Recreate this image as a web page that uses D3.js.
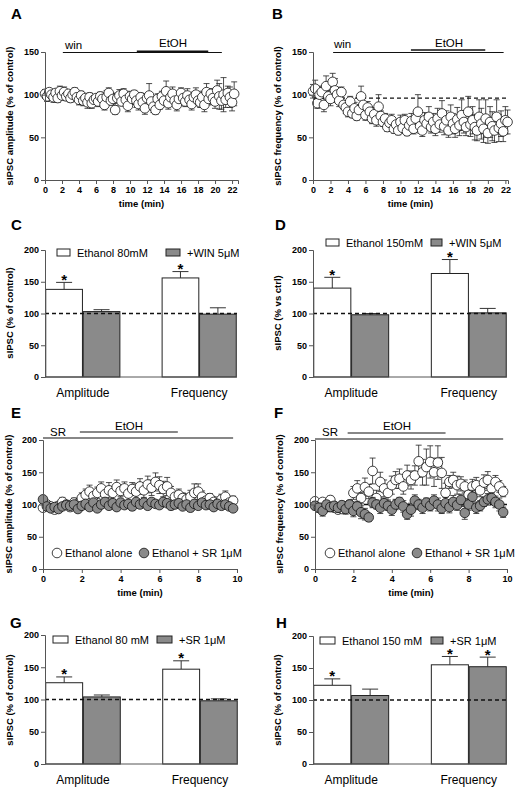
<!DOCTYPE html>
<html><head><meta charset="utf-8">
<script src="https://cdn.jsdelivr.net/npm/d3@7"></script>
<style>body{margin:0;background:#fff}svg{display:block}text{font-family:"Liberation Sans",Arial,sans-serif}</style>
</head><body>
<script>
// ---------- DATA ----------
const dtAB = 0.25; // sampling interval (min), panels A & B
const dtEF = 0.2;  // sampling interval (min), panels E & F

const ampWin = [101,98,103,100,97,102,96,104,99, 103,98,101,96,100,103,97,94, 99,93,96,91,97,90,94,96,
 92,98,95,88,97,102,93,95, 82,96,99,92,101,94,87,98, 95,100,93,89,97,91,84,96,
 99,92,86,82,95,88,98,93, 104,90,97,101,93,88,95,102, 96,92,99,94,89,97,100,93,
 91,97,88,103,95,101,96,92, 105,98,93,100,94,102,97,91,101];
const ampWinErr = [5,6,4,5,6,4,5,6,5, 6,5,4,5,6,5,4,6, 5,6,5,7,5,6,5,4, 6,5,7,6,8,6,5,6,
 5,6,7,5,6,5,7,6, 6,5,8,7,5,6,7,5, 14,6,7,5,6,5,6,7, 12,7,6,8,6,7,5,6, 7,6,8,5,7,6,8,6,
 6,7,8,10,7,6,7,8, 12,15,10,20,9,8,12,10,14];

const freqWin = [104,107,90,100,103,88,110,98,95, 115,105,100,93,103,88,85,80, 92,78,84,75,82,98,88,76,
 85,80,72,77,70,86,75,68, 72,62,67,70,60,65,58,68, 61,70,57,64,69,60,72,80,
 63,58,70,66,74,62,68,60, 72,65,78,63,70,58,74,66, 60,71,64,76,68,62,80,65,
 70,62,58,74,66,60,72,55, 68,63,58,74,61,66,57,70,68];
const freqWinErr = [8,10,6,9,7,8,12,7,8, 10,14,8,7,6,5,7,6, 6,5,7,5,6,12,8,6, 7,6,6,8,7,14,6,5,
 6,5,6,7,5,6,5,8, 6,7,5,8,9,6,8,20, 8,7,9,8,12,7,10,8, 12,9,15,10,11,8,14,12,
 10,14,12,18,13,10,18,14, 16,15,12,20,18,16,22,12, 18,17,14,20,16,15,12,16,14];

const ampEtOH = [95,100,97,92,98, 104,100,96,103,101, 110,115,120,113,118, 125,116,122,118,127,
 121,125,117,124,120, 128,122,131,126,135, 130,124,128,118,112, 115,110,108,112,118,
 120,112,106,110,104, 102,108,112,103,106];
const ampEtOHErr = [5,6,5,5,6, 7,6,6,7,6, 8,9,10,8,9, 10,9,12,10,11, 9,10,11,10,12, 12,11,13,12,14,
 13,12,14,10,8, 9,8,9,10,14, 12,9,8,7,8, 7,8,9,6,7];
const ampSR = [108,97,94,96,93, 97,99,98,100,93, 98,101,96,103,94, 100,104,98,102,96,
 103,99,101,97,104, 100,103,98,104,101, 99,104,102,98,100, 102,97,100,95,101,
 98,103,99,100,96, 101,98,100,97,94];
const ampSRErr = [4,4,5,4,5, 4,5,4,5,4, 5,4,5,5,4, 5,6,5,4,5, 5,4,5,6,5, 4,5,5,4,5, 5,4,5,6,5,
 5,4,5,6,4, 5,5,4,5,4, 5,4,5,4,5];

const freqEtOH = [105,97,104,96,107, 95,92,93,97,100, 118,125,110,127,120, 152,110,135,125,118,
 130,138,140,128,145, 138,145,167,150,158, 166,150,165,149,118, 135,138,130,132,128,
 115,128,130,122,134, 138,125,135,128,120];
const freqEtOHErr = [5,6,5,7,6, 6,5,6,7,6, 10,12,9,14,11, 20,12,15,13,11, 14,13,15,12,16,
 14,15,25,20,28, 25,22,26,24,15, 10,12,14,11,10, 9,11,12,10,12, 13,11,10,9,8];
const freqSR = [98,95,90,100,96, 98,95,99,93,100, 90,97,88,85,80, 103,100,95,102,98,
 92,100,104,97,85, 92,106,100,95,103, 98,106,100,94,102, 96,104,99,107,87,
 100,112,95,98,104, 108,110,104,100,88];
const freqSRErr = [6,7,8,6,7, 6,7,6,8,6, 9,8,10,9,6, 8,7,9,8,7, 9,8,7,9,8, 10,9,8,9,7,
 8,9,10,8,9, 9,10,8,9,10, 9,10,9,8,7, 9,8,9,10,8];

const barCats = ["Amplitude","Frequency"];
// C
const cEthanol = [138,156], cEthanolErr = [11,10], cWin = [103,99], cWinErr = [3,10];
// D
const dEthanol = [140,163], dEthanolErr = [17,22], dWin = [98,101], dWinErr = [2,7];
// G
const gEthanol = [126,147], gEthanolErr = [9,13], gSR = [104,98], gSRErr = [3,3];
// H
const hEthanol = [123,155], hEthanolErr = [10,13], hSR = [107,152], hSRErr = [10,15];

const timeTicksAB = [0,2,4,6,8,10,12,14,16,18,20,22];
const timeTicksEF = [0,2,4,6,8,10];

// ---------- DRAW ----------
const svg = d3.select("body").append("svg").attr("width",521).attr("height",795);
const GRAY = "#8a8a8a", AX = "#555", R = 4.8;

function letter(t,x,y){ svg.append("text").attr("x",x).attr("y",y).attr("font-size",15).attr("font-weight","bold").text(t); }
function ylabel(t,x,y){ svg.append("text").attr("transform",`translate(${x},${y}) rotate(-90)`).attr("text-anchor","middle")
  .attr("font-size",9.5).attr("font-weight","bold").text(t); }
function styleAxis(g){
  g.selectAll("path,line").attr("stroke",AX).attr("stroke-width",1);
  g.selectAll("text").attr("font-size",9).attr("font-weight","bold").attr("fill","#000")
   .attr("font-family",'"Liberation Sans",Arial,sans-serif');
}

function timePanel(c){
  const x = d3.scaleLinear().domain(c.xDomain).range(c.xRange);
  const y = d3.scaleLinear().domain(c.yDomain).range(c.yRange);
  const g = svg.append("g");
  c.treat.forEach(t=>{
    g.append("line").attr("x1",x(t.from)).attr("x2",x(t.to)).attr("y1",t.y).attr("y2",t.y)
     .attr("stroke","#111").attr("stroke-width",t.w);
    g.append("text").attr("x",t.tx).attr("y",t.ty).attr("font-size",11.5).text(t.label);
  });
  g.append("line").attr("x1",c.xRange[0]).attr("x2",c.xRange[1]).attr("y1",y(c.ref)).attr("y2",y(c.ref))
   .attr("stroke","#111").attr("stroke-width",1.3).attr("stroke-dasharray","4,3");
  c.series.forEach(s=>{
    const pts = s.v.map((v,i)=>({t:i*s.dt, v, e:s.e[i]}));
    const eg = g.append("g");
    pts.forEach(p=>{
      const cx = x(p.t);
      eg.append("line").attr("x1",cx).attr("x2",cx).attr("y1",y(p.v-p.e)).attr("y2",y(p.v+p.e)).attr("stroke","#222").attr("stroke-width",0.8);
      [p.v-p.e,p.v+p.e].forEach(ev=>eg.append("line").attr("x1",cx-3).attr("x2",cx+3).attr("y1",y(ev)).attr("y2",y(ev)).attr("stroke","#222").attr("stroke-width",0.8));
    });
    g.append("g").selectAll("circle").data(pts).join("circle")
     .attr("cx",d=>x(d.t)).attr("cy",d=>y(d.v)).attr("r",R)
     .attr("fill",s.fill).attr("stroke","#111").attr("stroke-width",0.8);
  });
  const ya = g.append("g").attr("transform",`translate(${c.xRange[0]},0)`)
    .call(d3.axisLeft(y).tickValues(c.yTicks).tickSize(4).tickPadding(2));
  styleAxis(ya);
  const xa = g.append("g").attr("transform",`translate(0,${c.yRange[0]})`)
    .call(d3.axisBottom(x).tickValues(c.xTicks).tickSize(4).tickPadding(3));
  styleAxis(xa);
  g.append("text").attr("x",(c.xRange[0]+c.xRange[1])/2).attr("y",c.yRange[0]+27).attr("text-anchor","middle")
   .attr("font-size",9.5).attr("font-weight","bold").text("time (min)");
  if(c.legend){
    c.legend.forEach(l=>{
      g.append("circle").attr("cx",l.cx).attr("cy",l.cy).attr("r",R).attr("fill",l.fill).attr("stroke","#111").attr("stroke-width",0.8);
      g.append("text").attr("x",l.cx+8).attr("y",l.cy+4).attr("font-size",11).text(l.label);
    });
  }
}

function barPanel(c){
  const x0 = d3.scaleBand().domain(barCats).range(c.xRange).paddingInner(0.35).paddingOuter(0);
  const x1 = d3.scaleBand().domain([0,1]).range([0,x0.bandwidth()]).padding(0.02);
  const y = d3.scaleLinear().domain([0,200]).range(c.yRange);
  const g = svg.append("g");
  const fills = ["#fff",GRAY];
  c.series.forEach((s,si)=>{
    barCats.forEach((cat,i)=>{
      const bx = x0(cat)+x1(si), bw = x1.bandwidth(), cx = bx+bw/2;
      const top = y(s.v[i]+s.e[i]);
      g.append("line").attr("x1",cx).attr("x2",cx).attr("y1",y(s.v[i])).attr("y2",top).attr("stroke","#333").attr("stroke-width",1);
      g.append("line").attr("x1",cx-8).attr("x2",cx+8).attr("y1",top).attr("y2",top).attr("stroke","#333").attr("stroke-width",1);
      g.append("rect").attr("x",bx).attr("y",y(s.v[i])).attr("width",bw).attr("height",y(0)-y(s.v[i]))
        .attr("fill",fills[si]).attr("stroke","#222").attr("stroke-width",1);
      if(s.star[i]) g.append("text").attr("x",cx).attr("y",top+2.5).attr("text-anchor","middle")
        .attr("font-size",15).attr("font-weight","bold").text("*");
    });
  });
  g.append("line").attr("x1",c.xRange[0]).attr("x2",c.xRange[1]).attr("y1",y(100)).attr("y2",y(100))
   .attr("stroke","#111").attr("stroke-width",1.5).attr("stroke-dasharray","4,3");
  const ya = g.append("g").attr("transform",`translate(${c.xRange[0]},0)`)
    .call(d3.axisLeft(y).tickValues([0,50,100,150,200]).tickSize(4).tickPadding(2));
  styleAxis(ya);
  g.append("line").attr("x1",c.xRange[0]).attr("x2",c.xRange[1]).attr("y1",y(0)).attr("y2",y(0)).attr("stroke",AX);
  barCats.forEach(cat=>g.append("text").attr("x",x0(cat)+x0.bandwidth()/2).attr("y",y(0)+20)
    .attr("text-anchor","middle").attr("font-size",12).text(cat));
  c.legend.forEach((l,i)=>{
    g.append("rect").attr("x",l.x).attr("y",l.y).attr("width",l.w).attr("height",7).attr("fill",fills[i]).attr("stroke","#222").attr("stroke-width",1);
    g.append("text").attr("x",l.x+l.w+7).attr("y",l.y+7.5).attr("font-size",11).text(l.label);
  });
}

// Panel A
letter("A",11,19);
ylabel("sIPSC amplitude (% of control)",13,116);
timePanel({xDomain:[0,22.7],xRange:[45,238],yDomain:[0,150],yRange:[180,52],yTicks:[0,50,100,150],xTicks:timeTicksAB,ref:100,
  treat:[{from:2.1,to:20.8,y:52.5,w:1,label:"win",tx:65,ty:49},{from:10.8,to:19.2,y:51.5,w:2,label:"EtOH",tx:159,ty:47}],
  series:[{v:ampWin,e:ampWinErr,dt:dtAB,fill:"#fff"}]});
// Panel B
letter("B",272,19);
ylabel("sIPSC frequency (% of control)",281,116);
timePanel({xDomain:[0,22.3],xRange:[313,508],yDomain:[0,150],yRange:[180,52],yTicks:[0,50,100,150],xTicks:timeTicksAB,ref:96,
  treat:[{from:2.3,to:21.8,y:52.5,w:1,label:"win",tx:334,ty:48},{from:11.2,to:19.7,y:50,w:1.5,label:"EtOH",tx:435,ty:47}],
  series:[{v:freqWin,e:freqWinErr,dt:dtAB,fill:"#fff"}]});
// Panel C
letter("C",11,230);
ylabel("sIPSC (% of control)",13,313);
barPanel({xRange:[45,237],yRange:[377,250],
  series:[{v:cEthanol,e:cEthanolErr,star:[true,true]},{v:cWin,e:cWinErr,star:[false,false]}],
  legend:[{x:57,y:249,w:13,label:"Ethanol 80mM"},{x:166,y:249,w:14,label:"+WIN 5\u03bcM"}]});
// Panel D
letter("D",275,230);
ylabel("sIPSC (% vs ctrl)",281,313);
barPanel({xRange:[313,507],yRange:[377,250],
  series:[{v:dEthanol,e:dEthanolErr,star:[true,true]},{v:dWin,e:dWinErr,star:[false,false]}],
  legend:[{x:326,y:239,w:13,label:"Ethanol 150mM"},{x:431,y:239,w:11,label:"+WIN 5\u03bcM"}]});
// Panel E
letter("E",11,418);
ylabel("sIPSC amplitude (% of control)",12,504);
timePanel({xDomain:[0,10],xRange:[43,237],yDomain:[0,200],yRange:[569,440],yTicks:[0,50,100,150,200],xTicks:timeTicksEF,ref:100,
  treat:[{from:0,to:9.8,y:438,w:1.2,label:"SR",tx:50,ty:436},{from:1.9,to:6.95,y:432,w:1.2,label:"EtOH",tx:115,ty:430}],
  series:[{v:ampEtOH,e:ampEtOHErr,dt:dtEF,fill:"#fff"},{v:ampSR,e:ampSRErr,dt:dtEF,fill:GRAY}],
  legend:[{cx:57,cy:553,fill:"#fff",label:"Ethanol alone"},{cx:144,cy:553,fill:GRAY,label:"Ethanol + SR 1\u03bcM"}]});
// Panel F
letter("F",274,418);
ylabel("sIPSC frequency (% of control)",283,504);
timePanel({xDomain:[0,10],xRange:[315,507],yDomain:[0,200],yRange:[569,440],yTicks:[0,50,100,150,200],xTicks:timeTicksEF,ref:100,
  treat:[{from:0,to:9.8,y:439,w:1.2,label:"SR",tx:322,ty:436},{from:1.7,to:6.8,y:433,w:1.2,label:"EtOH",tx:383,ty:430}],
  series:[{v:freqEtOH,e:freqEtOHErr,dt:dtEF,fill:"#fff"},{v:freqSR,e:freqSRErr,dt:dtEF,fill:GRAY}],
  legend:[{cx:330,cy:553,fill:"#fff",label:"Ethanol alone"},{cx:417,cy:553,fill:GRAY,label:"Ethanol + SR 1\u03bcM"}]});
// Panel G
letter("G",10,628);
ylabel("sIPSC (% of control)",13,700);
barPanel({xRange:[45,238],yRange:[764,635],
  series:[{v:gEthanol,e:gEthanolErr,star:[true,true]},{v:gSR,e:gSRErr,star:[false,false]}],
  legend:[{x:53,y:636,w:15,label:"Ethanol 80 mM"},{x:157,y:636,w:15,label:"+SR 1\u03bcM"}]});
// Panel H
letter("H",276,628);
ylabel("sIPSC (% of control)",281,700);
barPanel({xRange:[313,507],yRange:[764,636],
  series:[{v:hEthanol,e:hEthanolErr,star:[true,true]},{v:hSR,e:hSRErr,star:[false,true]}],
  legend:[{x:320,y:637,w:15,label:"Ethanol 150 mM"},{x:431,y:637,w:12,label:"+SR  1\u03bcM"}]});
</script>
</body></html>
